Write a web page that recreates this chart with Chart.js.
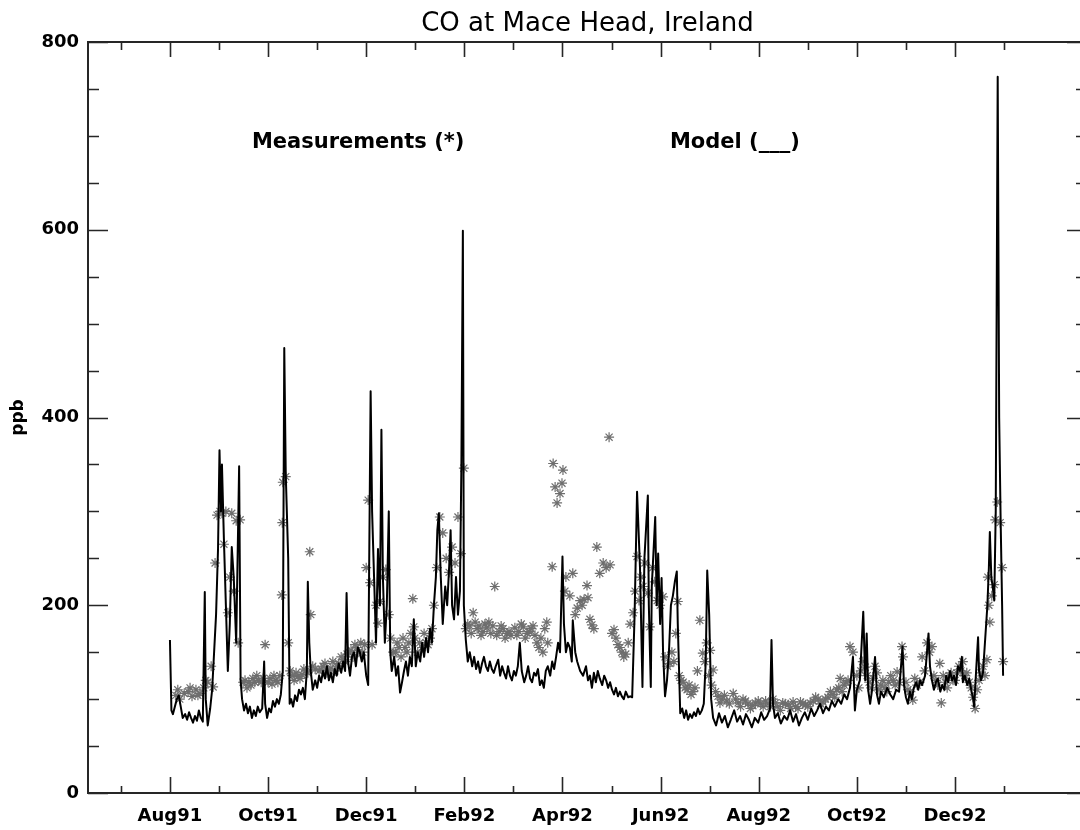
<!DOCTYPE html>
<html><head><meta charset="utf-8">
<script src="https://cdn.jsdelivr.net/npm/chart.js@4.4.0/dist/chart.umd.min.js"></script>
<style>html,body{margin:0;padding:0;background:#fff;overflow:hidden;}canvas{display:block;}</style>
</head><body>
<canvas id="c" width="1100" height="830"></canvas>
<script>
// ---- text ----
const chartTitle = 'CO at Mace Head, Ireland';
const yAxisTitle = 'ppb';
const tickMonths = [0, 2, 4, 6, 8, 10, 12, 14, 16];          // months since Aug 1991
const tickLabels = ['Aug91','Oct91','Dec91','Feb92','Apr92','Jun92','Aug92','Oct92','Dec92'];
const minorMonths = [-1, 1, 3, 5, 7, 9, 11, 13, 15, 17];
const yMajor = [0, 200, 400, 600, 800];
const yMinor = [50,100,150,250,300,350,450,500,550,650,700,750];
const xMin = -1.67, xMax = 18.69;
const notes = [
  { text: 'Measurements (*)', t: 1.67, v: 693 },
  { text: 'Model (___)', t: 10.19, v: 693 }
];

// ---- model (time in months since 1 Aug 1991, CO in ppb) ----
const modelT = [
 0.00,0.03,0.06,0.10,0.14,0.18,0.22,0.26,0.31,0.35,0.39,0.43,0.47,0.51,0.55,0.59,0.63,0.67,0.71,0.73,0.77,0.82,0.86,0.90,0.94,0.98,
 1.01,1.04,1.06,1.10,1.14,1.18,1.22,1.26,1.30,1.35,1.41,1.44,1.47,1.51,1.55,1.59,1.63,1.67,1.71,1.75,1.79,1.83,1.88,1.92,1.94,1.98,
 2.02,2.06,2.10,2.14,2.18,2.22,2.26,2.30,2.33,2.36,2.41,2.44,2.47,2.51,2.55,2.59,2.63,2.67,2.71,2.75,2.79,2.81,2.84,2.87,2.91,2.96,
 3.00,3.04,3.08,3.12,3.16,3.20,3.24,3.28,3.32,3.36,3.40,3.44,3.49,3.53,3.57,3.60,3.63,3.67,3.71,3.75,3.79,3.83,3.87,3.91,3.95,
 4.00,4.04,4.09,4.12,4.16,4.20,4.24,4.28,4.31,4.34,4.38,4.42,4.46,4.49,4.52,4.57,4.61,4.65,4.69,4.73,4.77,4.81,4.85,4.89,4.93,4.97,
 5.01,5.05,5.10,5.14,5.18,5.22,5.26,5.30,5.34,5.38,5.42,5.45,5.48,5.52,5.56,5.61,5.65,5.69,5.72,5.75,5.79,5.83,5.87,5.91,5.94,5.97,5.99,
 6.03,6.07,6.11,6.16,6.20,6.24,6.28,6.32,6.36,6.40,6.44,6.48,6.52,6.56,6.60,6.64,6.69,6.73,6.77,6.81,6.85,6.89,6.93,6.97,
 7.01,7.05,7.09,7.13,7.17,7.22,7.26,7.30,7.34,7.38,7.42,7.46,7.50,7.54,7.58,7.62,7.66,7.70,7.75,7.79,7.83,7.87,7.91,7.95,
 8.00,8.03,8.07,8.11,8.15,8.19,8.21,8.26,8.30,8.36,8.42,8.48,8.52,8.56,8.60,8.64,8.68,8.72,8.76,8.81,8.85,8.89,8.93,8.97,
 9.01,9.05,9.09,9.13,9.17,9.21,9.25,9.29,9.34,9.38,9.42,9.47,9.52,9.58,9.63,9.67,9.74,9.76,9.80,9.82,9.89,9.92,9.95,9.99,
 10.02,10.05,10.09,10.13,10.17,10.21,10.25,10.29,10.33,10.35,10.40,10.44,10.48,10.52,10.56,10.60,10.64,10.68,10.72,10.76,10.80,10.84,10.88,10.92,10.95,10.99,
 11.03,11.07,11.13,11.19,11.25,11.31,11.37,11.43,11.50,11.56,11.62,11.68,11.74,11.80,11.86,11.92,11.99,
 12.05,12.11,12.17,12.23,12.26,12.29,12.33,12.39,12.45,12.52,12.58,12.64,12.70,12.76,12.82,12.88,12.94,
 13.00,13.07,13.13,13.19,13.25,13.31,13.37,13.43,13.49,13.55,13.62,13.68,13.74,13.80,13.86,13.92,13.96,
 14.00,14.06,14.13,14.17,14.20,14.23,14.27,14.31,14.37,14.41,14.45,14.49,14.55,14.62,14.68,14.74,14.80,14.86,14.93,14.96,
 15.00,15.04,15.08,15.12,15.16,15.21,15.25,15.29,15.33,15.39,15.46,15.49,15.53,15.57,15.61,15.65,15.70,15.74,15.78,15.82,15.86,15.90,15.94,15.98,
 16.02,16.06,16.10,16.14,16.16,16.20,16.25,16.29,16.33,16.37,16.39,16.43,16.47,16.49,16.53,16.57,16.61,16.66,16.69,16.71,16.74,16.77,16.80,16.83,16.87,16.90,16.93,16.96,16.98
];
const modelV = [
 163,88,84,92,100,104,92,80,84,78,86,80,75,82,77,88,80,76,214,100,72,90,110,150,190,260,
 365,300,350,270,200,130,180,262,230,160,348,120,100,88,95,85,92,80,88,82,92,86,90,140,95,80,
 90,86,98,92,100,95,105,130,474,340,250,95,100,92,104,98,110,105,112,100,130,225,160,130,110,120,
 112,125,118,130,122,135,120,128,118,132,125,138,128,140,130,213,140,125,145,150,135,155,150,140,150,
 125,115,428,300,230,160,260,200,387,230,160,200,300,150,130,145,125,135,107,118,130,140,125,145,135,185,
 135,150,140,160,145,165,150,175,160,200,230,280,298,230,180,220,200,240,280,200,185,230,190,215,350,599,200,
 163,140,150,135,145,132,140,128,138,145,135,130,140,132,128,135,142,125,135,128,122,135,125,120,
 130,125,135,160,130,118,125,135,122,118,128,125,132,115,120,112,130,135,125,140,132,145,160,150,
 252,180,150,160,155,140,184,150,140,130,125,135,120,125,112,128,118,130,122,115,125,120,112,118,
 110,105,112,103,108,103,100,108,102,103,102,190,321,240,113,250,317,200,113,220,294,200,255,180,
 229,150,103,120,150,200,210,225,236,180,85,90,80,88,78,84,80,86,82,90,84,88,95,140,237,190,
 100,80,72,85,75,82,70,78,88,76,82,73,84,78,70,80,75,
 86,78,82,90,163,95,80,85,74,82,78,88,76,84,72,80,86,
 78,90,82,88,95,85,92,88,98,92,100,95,105,100,112,145,88,
 110,120,193,120,170,110,95,110,145,105,95,108,102,112,105,100,110,108,156,115,
 102,95,108,100,112,118,110,120,115,125,170,135,120,110,118,122,108,115,110,125,118,130,120,125,
 115,135,130,145,118,125,115,122,110,100,92,130,166,130,120,128,160,200,240,278,230,219,205,300,763,400,290,200,125
];

// ---- measurements (asterisks) ----
const measT = [
 0.12,0.20,0.29,0.37,0.45,0.53,0.61,0.69,0.77,0.84,0.88,0.92,0.96, 0.16,0.41,0.57,0.73,
 1.02,1.06,1.10,1.14,1.18,1.22,1.26,1.30,1.35,1.39,1.43,1.49,1.57,1.65,1.73,1.81,1.94, 1.53,1.61,1.69,1.77,1.86,1.90,
 2.00,2.08,2.16,2.24,2.28,2.29,2.30,2.36,2.41,2.45,2.53,2.61,2.69,2.77,2.85,2.87,2.96, 2.04,2.12,2.20,2.49,2.57,2.65,2.73,2.81,2.91,
 3.04,3.12,3.20,3.28,3.36,3.44,3.53,3.61,3.69,3.77,3.85,3.93, 3.08,3.16,3.24,3.32,3.40,3.49,3.57,3.65,3.73,3.81,3.89,3.97,
 4.00,4.04,4.08,4.12,4.20,4.24,4.28,4.34,4.40,4.46,4.55,4.63,4.71,4.79,4.87,4.95,4.97, 4.50,4.59,4.67,4.75,4.83,4.91,4.99,
 5.05,5.14,5.22,5.30,5.38,5.44,5.50,5.56,5.63,5.69,5.75,5.81,5.87,5.93,5.99, 5.09,5.18,5.26,5.34,
 6.07,6.18,6.26,6.34,6.42,6.50,6.58,6.62,6.71,6.79,6.87,6.95, 6.03,6.11,6.14,6.22,6.30,6.38,6.46,6.54,6.66,6.75,6.83,6.91,
 7.03,7.11,7.20,7.28,7.36,7.44,7.52,7.60,7.68,7.70,7.79,7.81,7.85,7.89,7.95,7.99, 7.07,7.16,7.24,7.32,7.40,7.48,7.56,7.64,
 8.01,8.07,8.15,8.21,8.30,8.36,8.44,8.50,8.52,8.60,8.70,8.76,8.83,8.89,8.95,8.97, 8.05,8.26,8.40,8.56,8.64,
 9.01,9.05,9.13,9.21,9.29,9.38,9.44,9.52,9.60,9.68,9.74,9.78,9.84,9.93,9.99, 9.09,9.17,9.25,9.34,9.48,9.56,9.64,9.88,
 10.05,10.09,10.19,10.27,10.35,10.42,10.50,10.58,10.66,10.80,10.86,10.94, 10.14,10.23,10.31,10.38,10.46,10.54,10.62,10.70,10.75,10.90,10.98,
 11.01,11.07,11.17,11.25,11.35,11.48,11.58,11.68,11.78,11.88,11.99, 11.04,11.12,11.21,11.30,11.40,11.53,11.63,11.73,11.83,11.93,
 12.09,12.19,12.29,12.39,12.49,12.60,12.70,12.80,12.90, 12.04,12.14,12.24,12.34,12.44,12.54,12.65,12.75,12.85,12.95,
 13.00,13.11,13.21,13.31,13.41,13.51,13.59,13.66,13.74,13.82,13.86,13.92, 13.05,13.16,13.26,13.36,13.46,13.55,13.63,13.70,13.78,
 14.00,14.08,14.17,14.25,14.33,14.41,14.49,14.57,14.65,14.74,14.82,14.92,14.94, 14.04,14.12,14.21,14.29,14.37,14.45,14.53,14.61,14.69,14.78,14.86,
 15.04,15.14,15.23,15.33,15.43,15.53,15.61,15.69,15.72,15.80,15.88,15.96, 15.00,15.09,15.18,15.28,15.38,15.48,15.57,15.65,15.76,15.84,15.92,
 16.04,16.12,16.20,16.29,16.37,16.41,16.49,16.57,16.65,16.67,16.71,16.80,16.82,16.86,16.92,16.96,16.98, 16.00,16.08,16.16,16.24,16.33,16.45,16.53,16.61,16.69,16.75
];
const measV = [
 104,100,106,108,103,110,106,112,118,135,113,245,296, 110,112,104,120,
 300,298,265,300,192,230,298,215,290,160,291,118,112,115,118,120,158, 120,118,122,125,118,122,
 118,116,120,125,211,288,331,337,160,130,120,124,126,130,257,190,132, 122,125,118,125,128,122,132,128,135,
 130,135,128,133,130,138,142,148,152,158,150,150, 132,138,130,140,135,145,140,150,145,155,160,158,
 240,312,224,158,200,181,204,230,238,190,150,160,145,155,160,207,177, 165,150,155,165,150,170,165,
 150,155,160,165,200,240,294,277,250,235,262,245,294,255,346, 160,170,158,175,
 180,192,175,168,180,182,178,220,172,175,170,168, 175,178,170,182,178,172,176,170,168,178,165,172,
 176,172,177,170,175,168,155,150,182,160,241,351,326,309,319,330, 168,180,165,172,178,160,165,175,
 344,230,210,234,197,205,206,221,208,179,262,234,245,240,379,243, 215,190,200,185,175,
 170,174,158,150,148,180,192,252,230,245,213,177,240,205,200, 165,155,145,160,215,205,220,225,
 209,145,138,140,204,120,112,115,108,184,149,160, 135,150,170,125,118,110,105,112,130,140,125,
 152,131,103,100,98,106,96,100,95,93,98, 115,108,96,104,95,100,92,98,90,96,
 92,95,100,92,96,94,97,90,95, 95,98,92,96,88,95,90,92,97,94,
 92,98,100,97,102,105,110,122,115,120,156,150, 96,102,95,100,108,102,112,108,118,
 125,130,134,118,122,128,115,112,118,120,129,156,145, 112,140,125,112,135,110,120,108,125,115,118,
 110,99,115,145,160,156,120,138,96,118,125,120, 118,108,122,118,130,150,125,115,125,112,128,
 128,130,125,118,102,90,120,135,142,230,182,222,291,310,288,240,140, 120,135,140,128,112,110,128,125,200,210
];

const AXIS_COLOR = '#262626';
const FONT = 'DejaVu Sans';

const innerTicks = {
  id: 'innerTicks',
  afterDraw(chart) {
    const { ctx, chartArea: a, scales: { x, y } } = chart;
    ctx.save();
    ctx.strokeStyle = AXIS_COLOR;
    ctx.lineWidth = 1.6;
    ctx.beginPath();
    const xt = (v, lb, lt) => {
      const p = Math.round(x.getPixelForValue(v)) + 0.5;
      ctx.moveTo(p, a.bottom); ctx.lineTo(p, a.bottom - lb);
      ctx.moveTo(p, a.top); ctx.lineTo(p, a.top + lt);
    };
    const yt = (v, len) => {
      const p = Math.round(y.getPixelForValue(v)) + 0.5;
      ctx.moveTo(a.left, p); ctx.lineTo(a.left + len, p);
      ctx.moveTo(a.right, p); ctx.lineTo(a.right - len, p);
    };
    tickMonths.forEach(v => xt(v, 16, 15));
    minorMonths.forEach(v => xt(v, 7, 8));
    yMajor.forEach(v => yt(v, 20));
    yMinor.forEach(v => yt(v, 11));
    ctx.stroke();
    ctx.fillStyle = '#000';
    ctx.font = 'bold 21px "' + FONT + '"';
    ctx.textAlign = 'left';
    ctx.textBaseline = 'middle';
    notes.forEach(n => ctx.fillText(n.text, x.getPixelForValue(n.t), y.getPixelForValue(n.v)));
    ctx.restore();
  }
};

const tickFont = { family: FONT, size: 18, weight: 'bold' };

new Chart(document.getElementById('c'), {
  data: {
    datasets: [
      {
        type: 'line', label: 'Model',
        data: modelT.map((t, i) => ({ x: t, y: modelV[i] })),
        borderColor: '#000', borderWidth: 2, borderJoinStyle: 'round',
        pointRadius: 0, tension: 0, fill: false, order: 0
      },
      {
        type: 'scatter', label: 'Measurements',
        data: measT.map((t, i) => ({ x: t, y: measV[i] })),
        pointStyle: 'star', pointRadius: 5, borderWidth: 1.2,
        borderColor: '#6e6e6e', backgroundColor: '#6e6e6e', order: 1
      }
    ]
  },
  options: {
    responsive: false, animation: false, devicePixelRatio: 1,
    layout: { padding: 0 },
    plugins: { legend: { display: false }, tooltip: { enabled: false }, title: { display: false } },
    scales: {
      x: {
        type: 'linear', position: 'bottom', min: xMin, max: xMax,
        afterBuildTicks: s => { s.ticks = tickMonths.map(v => ({ value: v })); },
        afterFit: s => { s.height = 37; },
        grid: { display: false, drawTicks: false },
        border: { display: true, color: AXIS_COLOR, width: 2 },
        ticks: { autoSkip: false, maxRotation: 0, minRotation: 0, padding: 13, color: '#000', font: tickFont,
                 callback: (v, i) => tickLabels[i] }
      },
      x2: {
        type: 'linear', position: 'top', min: xMin, max: xMax,
        afterFit: s => { s.height = 42; },
        grid: { display: false, drawTicks: false },
        border: { display: true, color: AXIS_COLOR, width: 2 },
        ticks: { display: false },
        title: { display: true, text: chartTitle, color: '#000', font: { family: FONT, size: 26 }, padding: { top: 9, bottom: 0 } }
      },
      y: {
        type: 'linear', position: 'left', min: 0, max: 800,
        afterBuildTicks: s => { s.ticks = yMajor.map(v => ({ value: v })); },
        afterFit: s => { s.width = 88; },
        grid: { display: false, drawTicks: false },
        border: { display: true, color: AXIS_COLOR, width: 2 },
        ticks: { padding: 9, color: '#000', font: tickFont },
        title: { display: true, text: yAxisTitle, color: '#000', font: { family: FONT, size: 17, weight: 'bold' }, padding: { top: 8, bottom: 0 } }
      },
      y2: {
        type: 'linear', position: 'right', min: 0, max: 800,
        afterFit: s => { s.width = 13; },
        grid: { display: false, drawTicks: false },
        border: { display: true, color: AXIS_COLOR, width: 2 },
        ticks: { display: false }
      }
    }
  },
  plugins: [innerTicks]
});
</script>
</body></html>
